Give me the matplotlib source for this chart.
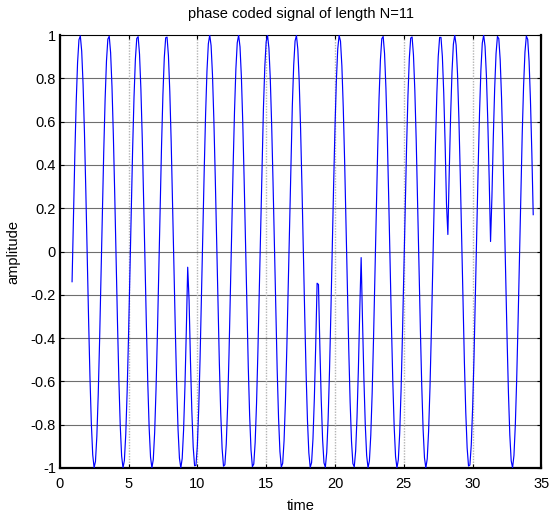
import numpy as np
import matplotlib
matplotlib.use("Agg")
import matplotlib.pyplot as plt

# Phase code (Barker, length 11) and the end time of each chip
code = [1, 1, 1, -1, -1, -1, 1, -1, -1, 1, -1]
chip_ends = [3.14, 6.28, 9.35, 12.57, 15.71, 18.75, 21.85, 25.13, 28.15, 31.35, 34.45]

# Carrier settings and sampling of the pulse
carrier_w = 3.0
carrier_phase = -2.84
dt = 0.1
first_sample, last_sample = 9, 344   # sample indices (t = n * dt)

x_ticks = [0, 5, 10, 15, 20, 25, 30, 35]
y_ticks = [-1, -0.8, -0.6, -0.4, -0.2, 0, 0.2, 0.4, 0.6, 0.8, 1]
y_ticklabels = ["-1", "-0.8", "-0.6", "-0.4", "-0.2", "0", "0.2", "0.4", "0.6", "0.8", "1"]

plt.rcParams["font.family"] = ["Liberation Sans", "DejaVu Sans"]
plt.rcParams["axes.unicode_minus"] = False

t = np.arange(first_sample, last_sample + 1) * dt
chip_idx = np.clip(np.searchsorted(chip_ends, t, side="right"), 0, len(code) - 1)
signal = np.array(code)[chip_idx] * np.sin(carrier_w * t + carrier_phase)

fig = plt.figure(figsize=(5.49, 5.15), dpi=100)
ax = fig.add_axes([0.1087, 0.0913, 0.8776, 0.8407])

# grid: horizontal lines darker than vertical ones
for yv in y_ticks[1:-1]:
    ax.axhline(yv, color="#6e6e6e", lw=0.8, zorder=1)
for xv in x_ticks[1:-1]:
    ax.axvline(xv, color="#b4b4b4", lw=1.0, ls=(0, (1, 1)), zorder=1)

ax.plot(t, signal, color="#0000ff", lw=0.85, zorder=3)

ax.set_xlim(0, 35)
ax.set_ylim(-1, 1)
ax.set_xticks(x_ticks)
ax.set_xticklabels([str(v) for v in x_ticks])
ax.set_yticks(y_ticks)
ax.set_yticklabels(y_ticklabels)
ax.tick_params(direction="in", length=3, width=0.8, top=True, right=True,
               labelsize=10.5, colors="black")
ax.tick_params(axis="x", pad=6.5)
ax.tick_params(axis="y", pad=2.7)

for side in ["left", "bottom", "right"]:
    ax.spines[side].set_linewidth(1.6)
ax.spines["top"].set_linewidth(0.8)

ax.set_title("phase coded signal of length N=11", fontsize=10.5, pad=12)
ax.set_xlabel("time", fontsize=10.5)
ax.set_ylabel("amplitude", fontsize=10.5)
ax.xaxis.set_label_coords(0.5, -0.0716)
ax.yaxis.set_label_coords(-0.082, 0.5)

fig.savefig("out.png", dpi=100)
